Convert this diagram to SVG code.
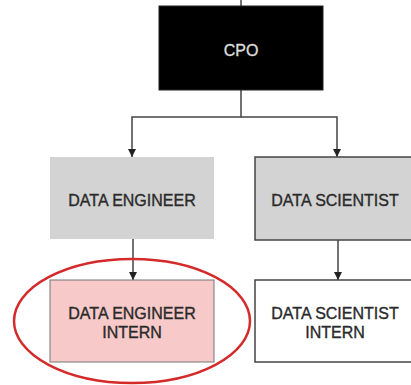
<svg xmlns="http://www.w3.org/2000/svg" width="411" height="385" viewBox="0 0 411 385">
<style>
.lbl{font-family:"Liberation Sans",Arial,sans-serif;font-size:16px;text-anchor:middle;fill:#2a2a2a;stroke:#2a2a2a;stroke-width:0.35}
.conn{stroke:#444;stroke-width:1.5;fill:none}
</style>
<defs>
<marker id="ah" viewBox="0 0 10 10" refX="10" refY="5" markerWidth="8" markerHeight="8" markerUnits="userSpaceOnUse" orient="auto">
<path d="M0,0 L10,5 L0,10 z" fill="#222"/>
</marker>
</defs>
<rect width="411" height="385" fill="#fff"/>
<g id="connectors">
<line class="conn" x1="241" y1="0" x2="241" y2="6"/>
<path class="conn" d="M241,90 V117 H132 V157" marker-end="url(#ah)"/>
<path class="conn" d="M241,117 H337 V157" marker-end="url(#ah)"/>
<path class="conn" d="M133,239 V280" marker-end="url(#ah)"/>
<path class="conn" d="M338,240 V280" marker-end="url(#ah)"/>
</g>
<g id="cpo">
<rect x="159" y="6" width="164" height="84" fill="#000" stroke="#222" stroke-width="1"/>
<text class="lbl" x="241" y="56" style="fill:#ddd;stroke:#ddd">CPO</text>
</g>
<g id="data-engineer">
<rect x="50" y="157" width="164" height="82" fill="#d3d3d3"/>
<text class="lbl" x="132" y="206">DATA ENGINEER</text>
</g>
<g id="data-scientist">
<rect x="255" y="157" width="164" height="83" fill="#d3d3d3" stroke="#444" stroke-width="1.5"/>
<text class="lbl" x="335" y="206">DATA SCIENTIST</text>
</g>
<g id="data-engineer-intern">
<rect x="50" y="280" width="164" height="82" fill="#f7c9c9" stroke="#777" stroke-width="1"/>
<text class="lbl" x="132" y="319">DATA ENGINEER</text>
<text class="lbl" x="132" y="338">INTERN</text>
</g>
<g id="data-scientist-intern">
<rect x="255" y="280" width="164" height="82" fill="#fff" stroke="#444" stroke-width="1.5"/>
<text class="lbl" x="335" y="319">DATA SCIENTIST</text>
<text class="lbl" x="335" y="338">INTERN</text>
</g>
<g id="highlight">
<ellipse cx="132" cy="321" rx="118" ry="62" fill="none" stroke="#d42a2a" stroke-width="2.5"/>
</g>
</svg>
